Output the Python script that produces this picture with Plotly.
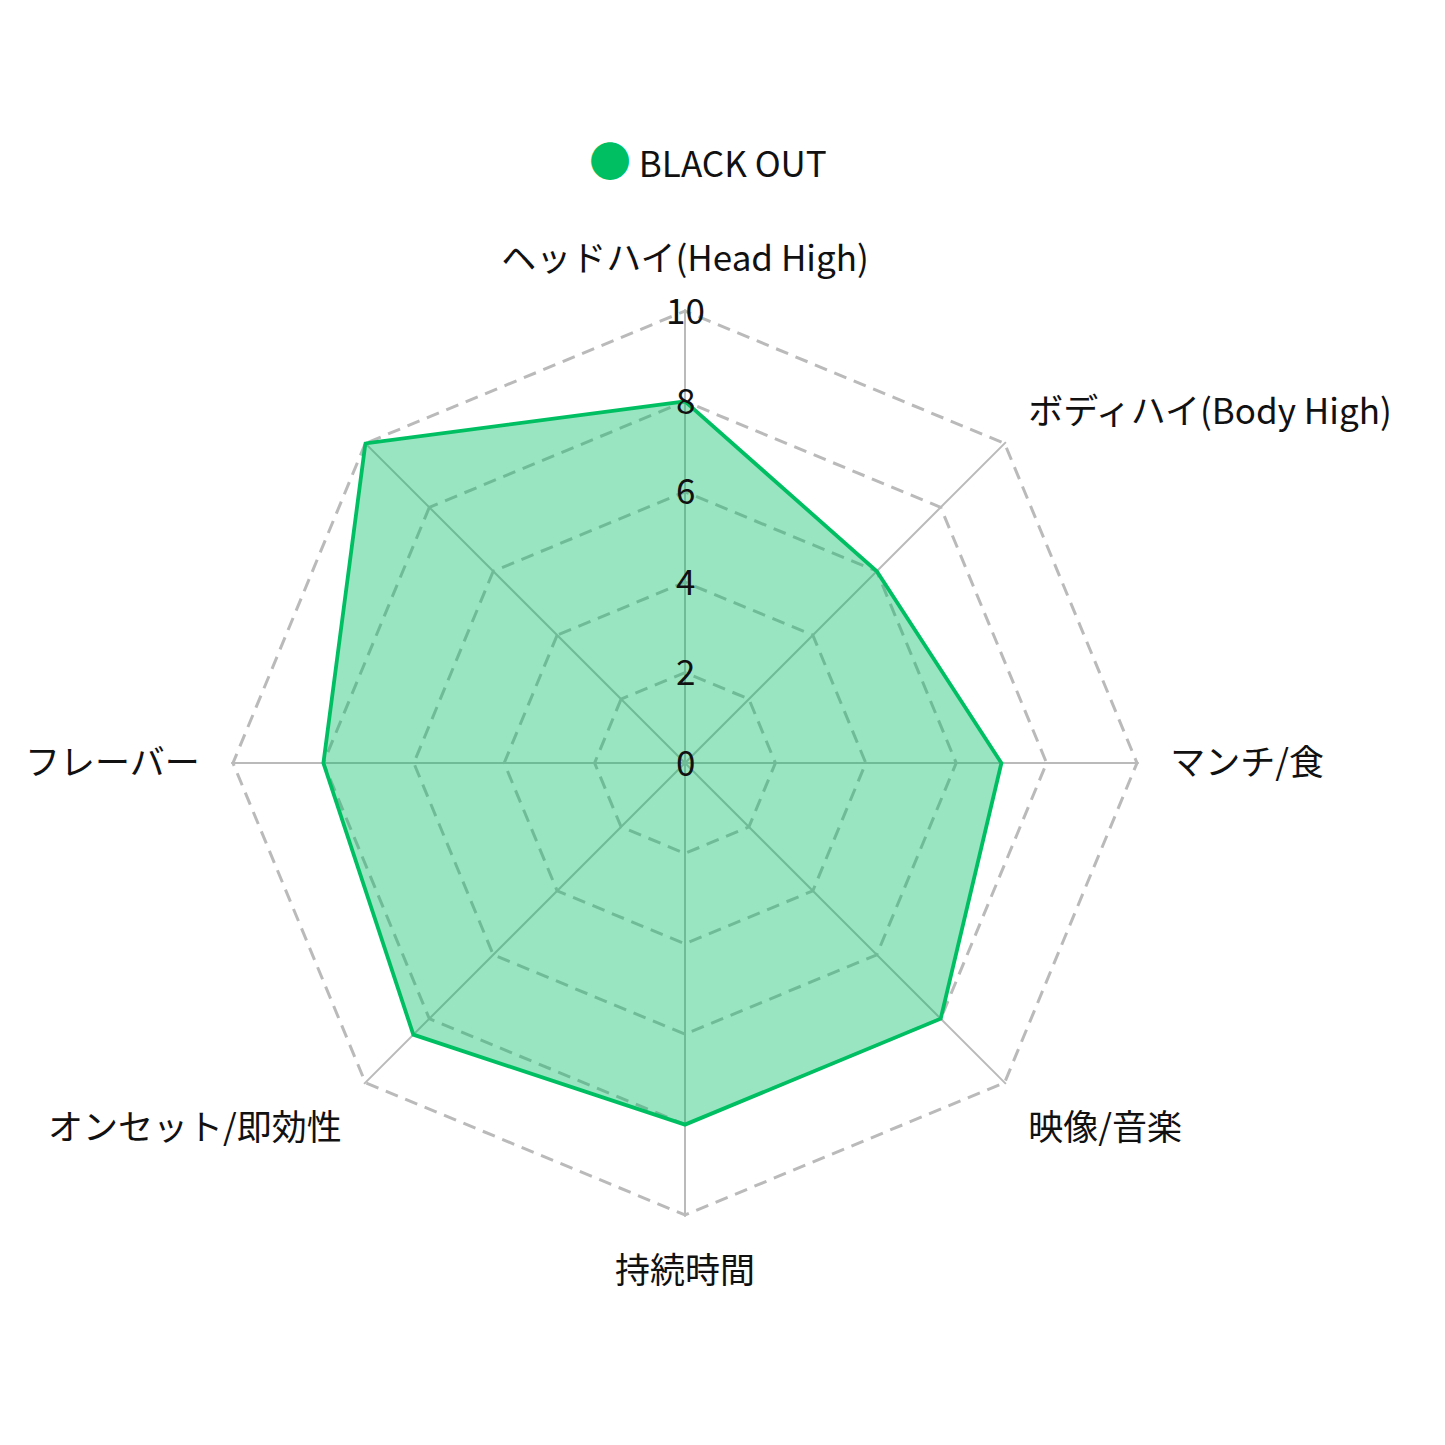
import plotly.graph_objects as go

categories = ["ヘッドハイ(Head High)", "ボディハイ(Body High)", "マンチ/食", "映像/音楽",
              "持続時間", "オンセット/即効性", "フレーバー", " "]
values = [8, 6, 7, 8, 8, 8.5, 8, 10]
series_name = "BLACK OUT"
tick_values = [0, 2, 4, 6, 8, 10]
tick_labels = ["0", "2", "4", "6", "8", "10"]

FONT = "Noto Sans CJK JP, Noto Sans, sans-serif"
GREEN = "#00bf63"
RMAX = 10.04

fig = go.Figure()
fig.add_trace(go.Scatterpolar(
    r=values + values[:1],
    theta=categories + categories[:1],
    mode="lines",
    fill="toself",
    fillcolor="rgba(0,191,99,0.4)",
    line=dict(color=GREEN, width=3.8),
    name=series_name,
    showlegend=False,
))
# hidden cartesian axes sharing the polar domain and scale (pole = origin),
# used to place the radial tick labels centred on the vertical axis
fig.add_trace(go.Scatter(
    x=[0] * len(tick_values), y=tick_values, mode="none",
    showlegend=False, hoverinfo="skip",
))

cx, cy = 685, 763
R = 452 * RMAX / 10
W = 1445
dom_x = [(cx - R) / W, (cx + R) / W]
dom_y = [(W - cy - R) / W, (W - cy + R) / W]

annotations = [dict(
    x=0, y=v, xref="x", yref="y", text=lab, showarrow=False,
    xanchor="center", yanchor="middle", yshift=3,
    font=dict(family=FONT, size=35, color="#111"),
) for v, lab in zip(tick_values, tick_labels)]
annotations.append(dict(
    x=708 / W, y=1 - 158 / W, xref="paper", yref="paper",
    xanchor="center", yanchor="middle", showarrow=False,
    text=f"<span style='color:{GREEN};font-size:42px'>●</span> {series_name}",
    font=dict(family=FONT, size=35, color="#111"),
))

fig.update_layout(
    width=W, height=W,
    margin=dict(l=0, r=0, t=0, b=0),
    paper_bgcolor="white",
    plot_bgcolor="rgba(0,0,0,0)",
    font=dict(family=FONT, size=35, color="#111"),
    xaxis=dict(domain=dom_x, range=[-RMAX, RMAX], visible=False, fixedrange=True),
    yaxis=dict(domain=dom_y, range=[-RMAX, RMAX], visible=False, fixedrange=True),
    polar=dict(
        domain=dict(x=dom_x, y=dom_y),
        bgcolor="rgba(0,0,0,0)",
        gridshape="linear",
        radialaxis=dict(
            range=[0, RMAX], tickvals=tick_values, showticklabels=False, ticks="",
            showline=False, gridcolor="#bababa", gridwidth=2.5, griddash="13px,8px",
            angle=90,
        ),
        angularaxis=dict(
            direction="clockwise", rotation=90, showline=False,
            gridcolor="#bababa", gridwidth=2.2,
            ticks="outside", ticklen=24, tickcolor="rgba(0,0,0,0)",
            tickfont=dict(family=FONT, size=35, color="#111"),
        ),
    ),
    annotations=annotations,
)
fig.write_html("out.html")
